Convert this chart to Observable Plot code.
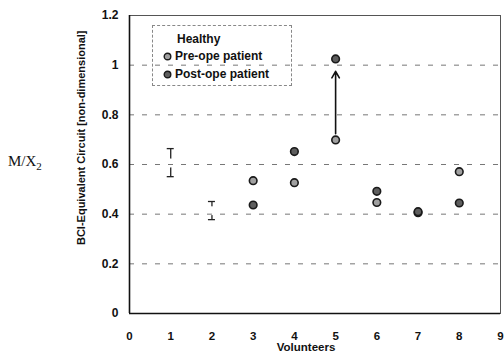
<!DOCTYPE html>
<html>
<head>
<meta charset="utf-8">
<script src="https://cdn.jsdelivr.net/npm/d3@7"></script>
<script src="https://cdn.jsdelivr.net/npm/@observablehq/plot@0.6"></script>
<style>
  html, body { margin: 0; padding: 0; background: #fff; }
  #wrap { position: relative; width: 504px; height: 356px; font-family: "Liberation Sans", Arial, sans-serif; }
  #legend { position: absolute; left: 152px; top: 25px; width: 140px; height: 61px; border: 1px dashed #888; box-sizing: border-box; font-weight: bold; font-size: 12px; color: #111; }
  #legend .row { position: absolute; left: 10px; white-space: nowrap; line-height: 14px; }
  #legend svg { vertical-align: -1px; margin-right: 3px; }
  #mx { position: absolute; left: 8px; top: 153px; font-family: "Liberation Serif", "DejaVu Serif", serif; font-size: 15px; color: #111; }
  #mx sub { font-size: 11px; }
</style>
</head>
<body>
<div id="wrap">
  <div id="chart"></div>
  <div id="mx">M/X<sub>2</sub></div>
  <div id="legend"></div>
</div>
<script>
// ---- data ----
const healthyVolunteers = [1, 2];
const healthyMean = [0.606, 0.414];
const healthyLow = [0.551, 0.378];
const healthyHigh = [0.664, 0.451];

const patientVolunteers = [3, 4, 5, 6, 7, 8];
const preOpe = [0.535, 0.527, 0.699, 0.447, 0.406, 0.571];
const postOpe = [0.437, 0.652, 1.025, 0.492, 0.410, 0.445];

const arrowVolunteers = [5];
const arrowFrom = [0.724];
const arrowTo = [0.975];

const xTicks = [0, 1, 2, 3, 4, 5, 6, 7, 8, 9];
const yTicks = [0, 0.2, 0.4, 0.6, 0.8, 1, 1.2];
const yTickLabels = ["0", "0.2", "0.4", "0.6", "0.8", "1", "1.2"];
const gridValues = [0.2, 0.4, 0.6, 0.8, 1.0];

const seriesNames = ["Healthy", "Pre-ope patient", "Post-ope patient"];
const yLabel = "BCI-Equivalent Circuit [non-dimensional]";
const xLabel = "Volunteers";

// ---- tables ----
const healthy = healthyVolunteers.map((v, i) => ({vol: v, mean: healthyMean[i], low: healthyLow[i], high: healthyHigh[i]}));
const pre = patientVolunteers.map((v, i) => ({vol: v, val: preOpe[i]}));
const post = patientVolunteers.map((v, i) => ({vol: v, val: postOpe[i]}));
const arrows = arrowVolunteers.map((v, i) => ({vol: v, from: arrowFrom[i], to: arrowTo[i]}));

const preFill = "#a0a0a0", postFill = "#5e5e5e", dotStroke = "#1a1a1a";
const capHalf = 0.085;

const chart = Plot.plot({
  width: 504,
  height: 356,
  marginLeft: 129,
  marginRight: 4,
  marginTop: 15,
  marginBottom: 43,
  style: {fontFamily: "'Liberation Sans', Arial, sans-serif", fontSize: "12px", fontWeight: "bold", color: "#111", background: "white", overflow: "visible"},
  x: {domain: [0, 9]},
  y: {domain: [0, 1.2]},
  marks: [
    Plot.ruleX(healthy, {x: "vol", y1: "low", y2: "high", stroke: "#222", strokeWidth: 1.3}),
    Plot.dot(healthy, {x: "vol", y: "mean", r: 4.5, fill: "white", stroke: "none"}),
    Plot.ruleY(gridValues, {stroke: "#777", strokeWidth: 1, strokeDasharray: "5,8"}),
    Plot.ruleY(healthy, {x1: d => d.vol - capHalf, x2: d => d.vol + capHalf, y: "high", stroke: "#222", strokeWidth: 1.3}),
    Plot.ruleY(healthy, {x1: d => d.vol - capHalf, x2: d => d.vol + capHalf, y: "low", stroke: "#222", strokeWidth: 1.3}),
    Plot.frame({stroke: "#555", strokeWidth: 1}),
    Plot.ruleX([0], {stroke: "#111", strokeWidth: 1.6}),
    Plot.ruleY([0], {stroke: "#111", strokeWidth: 1.6}),
    Plot.axisX({ticks: xTicks, tickSize: 0, tickPadding: 18, label: null, fontSize: 11.5}),
    Plot.axisY({ticks: yTicks, tickFormat: (d) => yTickLabels[yTicks.indexOf(d)], tickSize: 0, tickPadding: 11, label: null, fontSize: 12}),
    Plot.text([yLabel], {frameAnchor: "top-left", dx: -52, dy: 15, rotate: -90, textAnchor: "end", fontSize: 11, fontWeight: "bold", fill: "#111"}),
    Plot.text([xLabel], {frameAnchor: "bottom", dy: 37, dx: -9, fontSize: 11.5, fontWeight: "bold", fill: "#111"}),
    Plot.arrow(arrows, {x1: "vol", x2: "vol", y1: "from", y2: "to", stroke: "#111", strokeWidth: 1.6, headLength: 7}),
    Plot.dot(pre, {x: "vol", y: "val", r: 3.8, fill: preFill, stroke: dotStroke, strokeWidth: 1.6}),
    Plot.dot(post, {x: "vol", y: "val", r: 3.8, fill: postFill, stroke: dotStroke, strokeWidth: 1.6})
  ]
});
document.getElementById("chart").appendChild(chart);

// legend
const legend = document.getElementById("legend");
const fills = [null, preFill, postFill];
const tops = [6, 23, 41];
seriesNames.forEach((name, i) => {
  const row = document.createElement("div");
  row.className = "row";
  row.style.top = tops[i] + "px";
  if (fills[i]) {
    row.innerHTML = `<svg width="9" height="9"><circle cx="4.5" cy="4.5" r="3.3" fill="${fills[i]}" stroke="${dotStroke}" stroke-width="1.4"/></svg>${name}`;
  } else {
    row.style.left = "24px";
    row.textContent = name;
  }
  legend.appendChild(row);
});
</script>
</body>
</html>
